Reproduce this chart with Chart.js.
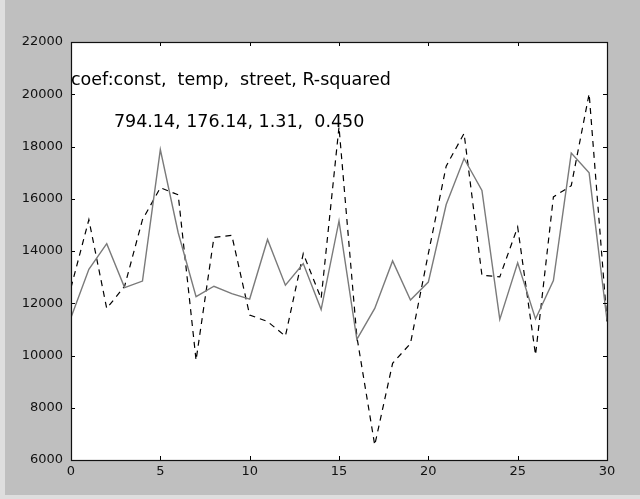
<!DOCTYPE html>
<html>
<head>
<meta charset="utf-8">
<script src="https://cdn.jsdelivr.net/npm/chart.js@4/dist/chart.umd.min.js"></script>
<style>
  html, body { margin: 0; padding: 0; background: #bfbfbf; }
  #wrap { width: 640px; height: 499px; position: relative; }
</style>
</head>
<body>
<div id="wrap"><canvas id="c" width="640" height="499"></canvas></div>
<script>
// ---- data ----
const xValues = [0,1,2,3,4,5,6,7,8,9,10,11,12,13,14,15,16,17,18,19,20,21,22,23,24,25,26,27,28,29,30];
const fittedValues = [11450, 13300, 14280, 12600, 12850, 17880, 14700, 12250, 12650, 12370, 12160, 14440, 12690, 13520, 11760, 15150, 10620, 11800, 13620, 12120, 12810, 15780, 17540, 16320, 11380, 13550, 11400, 12870, 17750, 16990, 11350];
const actualValues = [12600, 15200, 11800, 12650, 15200, 16420, 16150, 9820, 14520, 14600, 11550, 11300, 10740, 13900, 12180, 18750, 10720, 6570, 9700, 10460, 13900, 17250, 18500, 13070, 13010, 14920, 10020, 16070, 16500, 20020, 11300];
const xTicks = [0, 5, 10, 15, 20, 25, 30];
const yTicks = [6000, 8000, 10000, 12000, 14000, 16000, 18000, 20000, 22000];
const annotationLines = ["coef:const,  temp,  street, R-squared", "794.14, 176.14, 1.31,  0.450"];
const annotationX = [0, 2.4];
const annotationY = [20340, 18750];

const FONT = "'DejaVu Sans', sans-serif";

const framePlugin = {
  id: 'frame',
  beforeDraw(chart) {
    const ctx = chart.ctx, a = chart.chartArea;
    ctx.save();
    ctx.fillStyle = '#dedede';
    ctx.fillRect(0, 0, chart.width, chart.height);
    ctx.fillStyle = '#bfbfbf';
    ctx.fillRect(5, 0, chart.width - 5, chart.height - 4);
    ctx.fillStyle = '#ffffff';
    ctx.fillRect(a.left, a.top, a.right - a.left, a.bottom - a.top);
    ctx.restore();
  },
  afterDraw(chart) {
    const ctx = chart.ctx, a = chart.chartArea;
    const xs = chart.scales.x, ys = chart.scales.y;
    ctx.save();
    ctx.strokeStyle = '#000';
    ctx.lineWidth = 1;
    const L = 4;
    ctx.beginPath();
    xTicks.forEach(v => {
      const px = Math.round(xs.getPixelForValue(v)) + 0.5;
      ctx.moveTo(px, a.bottom); ctx.lineTo(px, a.bottom - L);
      ctx.moveTo(px, a.top); ctx.lineTo(px, a.top + L);
    });
    yTicks.forEach(v => {
      const py = Math.round(ys.getPixelForValue(v)) + 0.5;
      ctx.moveTo(a.left, py); ctx.lineTo(a.left + L, py);
      ctx.moveTo(a.right, py); ctx.lineTo(a.right - L, py);
    });
    ctx.stroke();
    ctx.lineWidth = 1.2;
    ctx.strokeStyle = '#111';
    ctx.strokeRect(Math.round(a.left) + 0.5, Math.round(a.top) + 0.5,
                   Math.round(a.right - a.left), Math.round(a.bottom - a.top));
    // annotations at data coordinates
    ctx.fillStyle = '#000';
    ctx.font = '17.5px ' + FONT;
    ctx.textBaseline = 'alphabetic';
    ctx.textAlign = 'left';
    annotationLines.forEach((t, i) => {
      ctx.fillText(t, xs.getPixelForValue(annotationX[i]), ys.getPixelForValue(annotationY[i]));
    });
    ctx.restore();
  }
};

new Chart(document.getElementById('c'), {
  type: 'line',
  data: {
    datasets: [
      {
        label: 'fitted',
        data: xValues.map((x, i) => ({ x, y: fittedValues[i] })),
        borderColor: '#7a7a7a',
        borderWidth: 1.4,
        pointRadius: 0,
        tension: 0,
        fill: false
      },
      {
        label: 'actual',
        data: xValues.map((x, i) => ({ x, y: actualValues[i] })),
        borderColor: '#000000',
        borderWidth: 1.2,
        borderDash: [6, 5],
        pointRadius: 0,
        tension: 0,
        fill: false
      }
    ]
  },
  options: {
    responsive: false,
    animation: false,
    layout: { padding: { left: 0, right: 33, top: 42, bottom: 0 } },
    plugins: { legend: { display: false }, tooltip: { enabled: false } },
    scales: {
      x: {
        type: 'linear',
        min: 0, max: 30,
        afterBuildTicks(scale) { scale.ticks = xTicks.map(v => ({ value: v })); },
        afterFit(scale) { scale.height = 39; },
        grid: { display: false, drawTicks: false },
        border: { display: false },
        ticks: { color: '#111', padding: 4, font: { family: FONT, size: 13 }, maxRotation: 0, autoSkip: false }
      },
      y: {
        type: 'linear',
        min: 6000, max: 22000,
        afterBuildTicks(scale) { scale.ticks = yTicks.map(v => ({ value: v })); },
        afterFit(scale) { scale.width = 71; },
        grid: { display: false, drawTicks: false },
        border: { display: false },
        ticks: { color: '#111', padding: 8, font: { family: FONT, size: 13 }, autoSkip: false,
                 callback: v => String(v) }
      }
    }
  },
  plugins: [framePlugin]
});
</script>
</body>
</html>
